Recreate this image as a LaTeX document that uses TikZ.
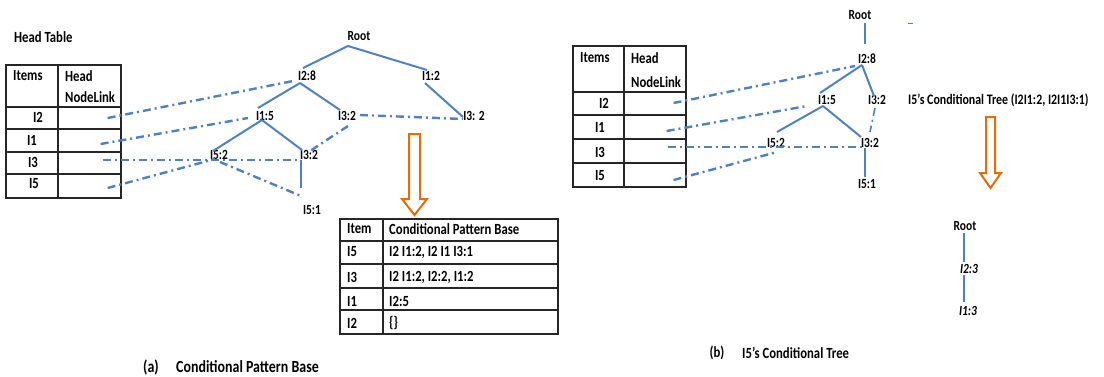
\documentclass[tikz,border=0pt]{standalone}
\usepackage{fontspec}
\setmainfont{Carlito}[FakeStretch=0.82]
\usetikzlibrary{calc}
\definecolor{lblue}{HTML}{4F81BD}
\definecolor{orng}{HTML}{E46C0A}
\begin{document}
\begin{tikzpicture}[x=1pt,y=-1pt,
 every node/.style={inner sep=0pt},
 lbl/.style={font=\bfseries\fontsize{14}{16}\selectfont},
 tx/.style={font=\bfseries\fontsize{15.5}{17}\selectfont},
 capA/.style={font=\bfseries\fontsize{17}{19}\selectfont},
 capB/.style={font=\bfseries\fontsize{15.5}{17}\selectfont},
 cell/.style={draw=black!85, line width=1.2pt},
 tree/.style={lblue, line width=2pt},
 thin/.style={lblue, line width=1.4pt},
 link/.style={lblue, line width=2.4pt, dash pattern=on 8pt off 4pt on 2pt off 4pt},
 bigarrow/.style={draw=orng, line width=2pt, fill=white}]
\useasboundingbox (0,0) rectangle (1104,376);

% ---------------- left head table
\node[tx, anchor=west] (htitle) at (14,37) {Head Table};
\node[cell, minimum width=52pt, minimum height=42pt] (LA0) at (32,86) {};
\node[cell, minimum width=63pt, minimum height=42pt] (LB0) at (89.5,86) {};
\foreach \n/\cy/\h in {1/118/22, 2/140.5/23, 3/163/22, 4/186/24}{
  \node[cell, minimum width=52pt, minimum height=\h pt] (LA\n) at (32,\cy) {};
  \node[cell, minimum width=63pt, minimum height=\h pt] (LB\n) at (89.5,\cy) {};
}
\node[tx, anchor=west] (lItems) at (13,76) {Items};
\node[tx, anchor=west] (lHead) at (65,76) {Head};
\node[tx, anchor=west] (lNL) at (65,97) {NodeLink};
\node[tx] (lI2) at (38,117) {I2};
\node[tx] (lI1) at (32,140) {I1};
\node[tx] (lI3) at (33,162) {I3};
\node[tx] (lI5) at (34,184) {I5};

% ---------------- left FP tree
\node[lbl] (aR) at (359,36) {Root};
\node[lbl] (a28) at (307,76) {I2:8};
\node[lbl] (a12) at (431,76) {I1:2};
\node[lbl] (a15) at (265,116) {I1:5};
\node[lbl] (a32) at (347,116) {I3:2};
\node[lbl] (a32b) at (474,116) {I3: 2};
\node[lbl] (a52) at (219,155) {I5:2};
\node[lbl] (a32c) at (309,155) {I3:2};
\node[lbl] (a51) at (312,210) {I5:1};

\draw[tree] ($(aR)+(-11,10)$) -- ($(a28)+(-4,-8)$);
\draw[tree] ($(aR)+(-11,10)$) -- ($(a12)+(-4,-6)$);
\draw[tree] ($(a28)+(-7,7)$) -- ($(a15)+(-7,-8)$);
\draw[tree] ($(a28)+(-7,7)$) -- ($(a32)+(-7,-6)$);
\draw[tree] ($(a12)+(-6,7)$) -- ($(a32b)+(-11,1)$);
\draw[tree] ($(a15)+(-3,4)$) -- ($(a52)+(-6,-4)$);
\draw[tree] ($(a15)+(-3,4)$) -- ($(a32c)+(-7,-5)$);
\draw[thin] ($(a32c)+(-8,5)$) -- ($(a51)+(-11,-22)$);

\draw[link] ($(LB1.east)+(-14,0)$) -- ($(a28)+(-14,5)$);
\draw[link] ($(LB2.east)+(-21,3.5)$) -- ($(a15)+(-17,2)$);
\draw[link] ($(LB3.east)+(-19,-3)$) -- ($(a32c)+(-9,5)$);
\draw[link] ($(LB4.east)+(-14,2)$) -- ($(a52)+(-4,4)$);
\draw[link] ($(a52)+(1,7)$) -- ($(a51)+(-11,-14)$);
\draw[link] ($(a32)+(1,10)$) -- ($(a32c)+(1,-4)$);
\draw[link] ($(a32)+(13,-1)$) -- ($(a32b)+(-11,3)$);

% ---------------- left orange arrow
\draw[bigarrow] (409,134) -- (420,134) -- (420,199) -- (427,199) -- (414.5,215)
  -- (402,199) -- (409,199) -- cycle;

% ---------------- conditional pattern base table
\node[cell, minimum width=43pt, minimum height=22pt] (PA0) at (361.5,230) {};
\node[cell, minimum width=175pt, minimum height=22pt] (PB0) at (470.5,230) {};
\foreach \n/\cy/\h in {1/252.5/23, 2/276/24, 3/299/22, 4/322/24}{
  \node[cell, minimum width=43pt, minimum height=\h pt] (PA\n) at (361.5,\cy) {};
  \node[cell, minimum width=175pt, minimum height=\h pt] (PB\n) at (470.5,\cy) {};
}
\node[tx, anchor=west] (pItem) at (347,229) {Item};
\node[tx, anchor=west] (pCPB) at (389,229) {Conditional Pattern Base};
\node[tx, anchor=west] (p5) at (347,252) {I5};
\node[tx, anchor=west] (p5v) at (389,252) {I2 I1:2, I2 I1 I3:1};
\node[tx, anchor=west] (p3) at (347,277) {I3};
\node[tx, anchor=west] (p3v) at (389,277) {I2 I1:2, I2:2, I1:2};
\node[tx, anchor=west] (p1) at (347,301) {I1};
\node[tx, anchor=west] (p1v) at (389,301) {I2:5};
\node[tx, anchor=west] (p2) at (347,323) {I2};
\node[tx, anchor=west] (p2v) at (389,323) {\{\}};

\node[capA] (capa) at (151,367) {(a)};
\node[capA, anchor=west] (capat) at (176,367) {Conditional Pattern Base};

% ---------------- right head table
\node[cell, minimum width=51pt, minimum height=46pt] (RA0) at (598.5,69) {};
\node[cell, minimum width=62pt, minimum height=46pt] (RB0) at (655,69) {};
\foreach \n/\cy/\h in {1/103.5/23, 2/127/24, 3/151/24, 4/175/24}{
  \node[cell, minimum width=51pt, minimum height=\h pt] (RA\n) at (598.5,\cy) {};
  \node[cell, minimum width=62pt, minimum height=\h pt] (RB\n) at (655,\cy) {};
}
\node[tx, anchor=west] (rItems) at (580,58) {Items};
\node[tx, anchor=west] (rHead) at (631,58) {Head};
\node[tx, anchor=west] (rNL) at (631,82) {NodeLink};
\node[tx] (rI2) at (604,103) {I2};
\node[tx] (rI1) at (600,127) {I1};
\node[tx] (rI3) at (600,152) {I3};
\node[tx] (rI5) at (600,176) {I5};

% ---------------- right FP tree
\node[lbl] (bR) at (860,15) {Root};
\node[lbl] (b28) at (867,59) {I2:8};
\node[lbl] (b15) at (827,100) {I1:5};
\node[lbl] (b32) at (877,100) {I3:2};
\node[lbl] (b52) at (776,143) {I5:2};
\node[lbl] (b32c) at (870,143) {I3:2};
\node[lbl] (b51) at (867,184) {I5:1};
\draw[lblue, line width=1pt] (908,23) -- (913,23);

\draw[thin] ($(bR)+(5,8)$) -- ($(b28)+(-2,-15)$);
\draw[tree] ($(b28)+(-5,6)$) -- ($(b15)+(-7,-7)$);
\draw[tree] ($(b28)+(-5,6)$) -- ($(b32)+(-3,-4)$);
\draw[tree] ($(b15)+(-4,6)$) -- ($(b52)+(1,-11)$);
\draw[tree] ($(b15)+(-4,6)$) -- ($(b32c)+(-9,-6)$);
\draw[thin] ($(b32c)+(-5,5)$) -- ($(b51)+(-2,-7)$);
\draw[link, line width=1.6pt] ($(b32)+(-2,8)$) -- ($(b32c)+(0,-11)$);

\draw[link] ($(RB1.east)+(-13,-0.5)$) -- ($(b28)+(-12,7)$);
\draw[link] ($(RB2.east)+(-20,4)$) -- ($(b15)+(-20,6)$);
\draw[link] ($(RB3.east)+(-19,-4)$) -- ($(b32c)+(-8,4)$);
\draw[link] ($(RB4.east)+(-13,5)$) -- ($(b52)+(1,9)$);

\node[tx, anchor=west, font=\bfseries\fontsize{14.5}{16}\selectfont] (note) at (908,100)
  {I5’s Conditional Tree (I2I1:2, I2I1I3:1)};

% ---------------- right orange arrow
\draw[bigarrow] (986,117) -- (995,117) -- (995,173) -- (1001,173) -- (990.5,188)
  -- (980,173) -- (986,173) -- cycle;

% ---------------- conditional tree
\node[lbl] (cR) at (965,226) {Root};
\node[lbl, font=\bfseries\itshape\fontsize{14}{16}\selectfont] (c23) at (969,269) {I2:3};
\node[lbl, font=\bfseries\itshape\fontsize{14}{16}\selectfont] (c13) at (968,311) {I1:3};
\draw[thin] ($(cR)+(-1,7)$) -- ($(c23)+(-5,-7)$);
\draw[thin] ($(c23)+(-5,6)$) -- ($(c13)+(-4,-9)$);

\node[capB] (capb) at (717,353) {(b)};
\node[capB, anchor=west] (capbt) at (742,353) {I5’s Conditional Tree};
\end{tikzpicture}
\end{document}
